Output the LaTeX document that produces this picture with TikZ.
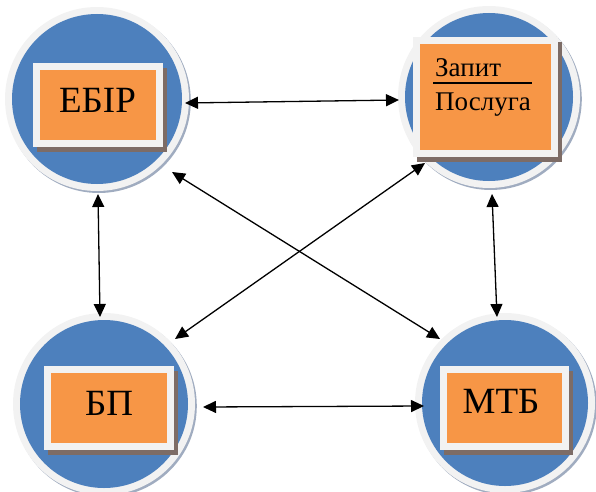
\documentclass[tikz,border=0pt]{standalone}
\usepackage{fontspec}
\setmainfont{Liberation Serif}
\usetikzlibrary{arrows.meta,shadows}
\definecolor{blueC}{RGB}{77,128,189}
\definecolor{ringC}{RGB}{242,242,242}
\definecolor{orangeC}{RGB}{247,150,70}
\definecolor{cshadow}{RGB}{160,172,192}
\definecolor{bshadow}{RGB}{125,108,102}
\tikzset{
  bubble/.style={circle, fill=ringC, draw=none, inner sep=0pt, minimum size=2*#1,
    path picture={\fill[blueC] (path picture bounding box.center) circle[radius=#1-7pt];},
    drop shadow={shadow xshift=1.8pt, shadow yshift=-2pt, fill=cshadow, opacity=1}},
  card/.style={rectangle, fill=ringC, draw=none, inner sep=0pt,
    path picture={\fill[orangeC] ([shift={(7pt,7pt)}]path picture bounding box.south west) rectangle ([shift={(-7pt,-7pt)}]path picture bounding box.north east);},
    drop shadow={shadow xshift=4pt, shadow yshift=-5pt, fill=bshadow, opacity=1}},
  bigtxt/.style={inner sep=0pt, font=\fontsize{37}{40}\selectfont},
  smalltxt/.style={inner sep=0pt, font=\fontsize{27}{30}\selectfont},
  link/.style={{Triangle[length=13pt,width=12pt]}-{Triangle[length=13pt,width=12pt]}, line width=1.3pt, black}
}
\begin{document}
\begin{tikzpicture}[x=1pt,y=1pt]
\useasboundingbox (0,0) rectangle (596,491);
% circles
\node[bubble=92pt] (c1) at (97,392) {};
\node[bubble=91pt] (c2) at (489,394) {};
\node[bubble=91pt] (c3) at (104,87) {};
\node[bubble=90pt] (c4) at (505,88) {};
% cards
\node[card, minimum width=130pt, minimum height=84pt] (b1) at (98,386) {};
\node[card, minimum width=145pt, minimum height=120pt] (b2) at (485.5,394) {};
\node[card, minimum width=130pt, minimum height=84pt] (b3) at (109,83) {};
\node[card, minimum width=129pt, minimum height=84pt] (b4) at (504.5,83) {};
% labels
\node[bigtxt, anchor=base] (t1) at (97.5,378) {ЕБІР};
\node[bigtxt, anchor=base] (t3) at (109,76) {БП};
\node[bigtxt, anchor=base] (t4) at (501,78) {МТБ};
\node[smalltxt, anchor=base west] (t2a) at (435,414) {Запит};
\node[smalltxt, anchor=base west] (t2b) at (435,381) {Послуга};
\draw[line width=1.5pt] (433,408) -- (532,408);
% connectors
\draw[link] ([shift={(88,-4)}]c1.center) -- ([shift={(-90,-3)}]c2.center);
\draw[link] ([shift={(75,-73)}]c1.center) -- ([shift={(-65,64)}]c4.center);
\draw[link] ([shift={(-64,-66)}]c2.center) -- ([shift={(71,65)}]c3.center);
\draw[link] ([shift={(1,-95)}]c1.center) -- ([shift={(-4,87)}]c3.center);
\draw[link] ([shift={(3,-97)}]c2.center) -- ([shift={(-8,86)}]c4.center);
\draw[link] ([shift={(99,-3)}]c3.center) -- ([shift={(-81,-3)}]c4.center);
\end{tikzpicture}
\end{document}
